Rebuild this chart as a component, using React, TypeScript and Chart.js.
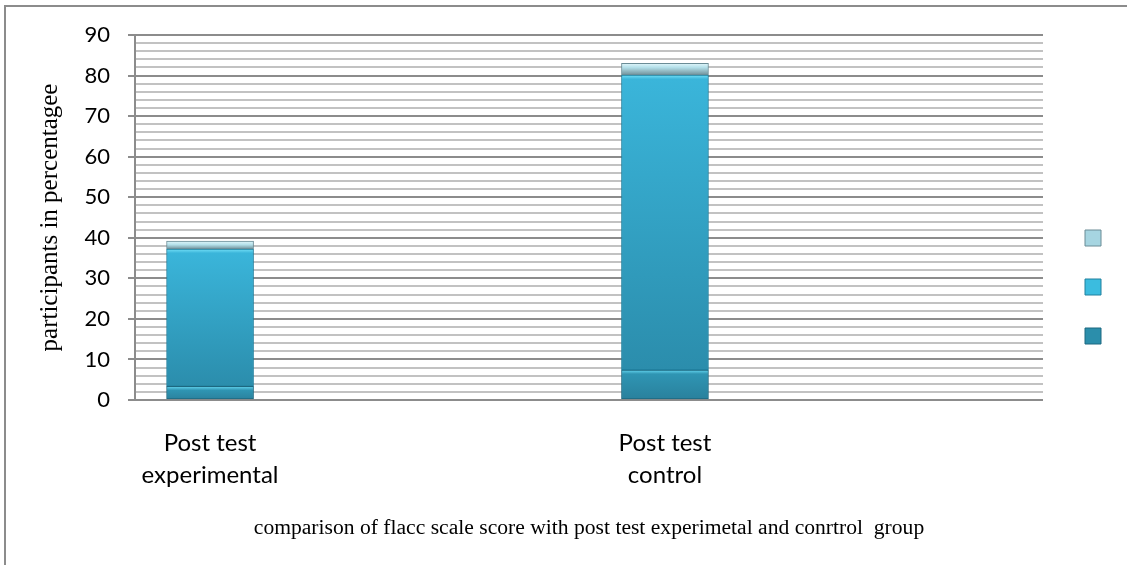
import React, { useEffect, useRef } from 'react';
import { Chart, registerables } from 'chart.js';

Chart.register(...registerables);

// ---- data ----
const categories: string[][] = [
  ['Post test', 'experimental'],
  ['Post test', 'control'],
];
const seriesBottom: number[] = [3.4, 7.4];
const seriesMiddle: number[] = [33.8, 72.7];
const seriesTop: number[] = [2.0, 2.9];
const seriesNames: string[] = ['', '', ''];
const yMin = 0;
const yMax = 90;
const yStep = 2;
const yLabelEvery = 10;
const xTitle = 'comparison of flacc scale score with post test experimetal and conrtrol  group';
const yTitle = 'participants in percentagee';

const seriesList = [seriesBottom, seriesMiddle, seriesTop];

// ---- styles ----
const colors = ['#2b8eab', '#3bbcdf', '#a6d5e1'];
const borders = ['#1d6880', '#20809e', '#6a8c96'];
const shades = [
  { hi: '#66d6f0', mid: '#2f95b3', lo: '#29809c' },
  { hi: '#72def6', mid: '#3ab5da', lo: '#2b8dac' },
  { hi: '#e0f6fa', mid: '#b4e0ea', lo: '#6f8e97' },
];
const majorGrid = '#8c8c8c';
const minorGrid = '#c2c2c2';

const toPoints = (vals: number[]) => vals.map((v, i) => ({ x: i, y: v }));

function segmentFill(i: number) {
  return (c: any) => {
    if (!c || c.type !== 'data' || c.dataIndex == null) return colors[i];
    const chart = c.chart;
    const y = chart.scales && chart.scales.y;
    if (!y) return colors[i];
    const j = c.dataIndex;
    let start = 0;
    for (let k = 0; k < i; k++) start += seriesList[k][j];
    const end = start + seriesList[i][j];
    const yt = y.getPixelForValue(end);
    const yb = y.getPixelForValue(start);
    const h = yb - yt;
    if (!(h > 0) || !isFinite(h)) return colors[i];
    const g = chart.ctx.createLinearGradient(0, yt, 0, yb);
    const e = Math.min(4 / h, 0.45);
    g.addColorStop(0, shades[i].hi);
    g.addColorStop(e, shades[i].mid);
    g.addColorStop(1, shades[i].lo);
    return g;
  };
}

export default function App() {
  const ref = useRef<HTMLCanvasElement | null>(null);

  useEffect(() => {
    if (!ref.current) return;
    const baseLabels = (Chart as any).defaults.plugins.legend.labels.generateLabels;
    const chart = new Chart(ref.current, {
      type: 'bar',
      data: {
        datasets: seriesList.map((s, i) => ({
          label: seriesNames[i],
          data: toPoints(s),
          backgroundColor: segmentFill(i),
          borderColor: borders[i],
          borderWidth: 1,
          borderSkipped: false,
          barThickness: 87,
        })),
      },
      options: {
        responsive: false,
        animation: false,
        layout: { padding: { left: 0, top: 35, right: 10, bottom: 26 } },
        plugins: {
          legend: {
            position: 'right',
            reverse: true,
            labels: {
              boxWidth: 16,
              boxHeight: 16,
              padding: 33,
              font: { size: 12 },
              generateLabels: (ch: any) =>
                baseLabels(ch).map((l: any) => ({
                  ...l,
                  fillStyle: colors[l.datasetIndex],
                  strokeStyle: borders[l.datasetIndex],
                  lineWidth: 1,
                })),
            },
          },
          tooltip: { enabled: false },
        },
        scales: {
          x: {
            type: 'linear',
            stacked: true,
            offset: false,
            min: -0.165,
            max: 1.831,
            grid: { display: false, drawTicks: false, offset: false },
            border: { display: false },
            afterBuildTicks: (s: any) => {
              s.ticks = categories.map((_, i) => ({ value: i }));
            },
            ticks: {
              autoSkip: false,
              maxRotation: 0,
              padding: 28,
              color: '#000',
              font: { family: 'Lato', size: 24, lineHeight: 1.3 },
              callback: (v: any) => categories[v] ?? '',
            },
            title: {
              display: true,
              text: xTitle,
              color: '#000',
              font: { family: '"Liberation Serif", "Times New Roman", serif', size: 21.6 },
              padding: { top: 0, bottom: -2 },
            },
            afterFit: (s: any) => {
              s.height = 139;
            },
          },
          y: {
            type: 'linear',
            stacked: true,
            min: yMin,
            max: yMax,
            ticks: {
              stepSize: yStep,
              autoSkip: false,
              padding: 18,
              color: '#000',
              font: { family: 'Lato', size: 22 },
              callback: (v: any) => (Number(v) % yLabelEvery === 0 ? String(v) : ''),
            },
            grid: {
              color: (c: any) => (c.tick && c.tick.value % yLabelEvery === 0 ? majorGrid : minorGrid),
              lineWidth: 2,
              tickLength: 7,
              tickWidth: 2,
              tickColor: (c: any) => (c.tick && c.tick.value % yLabelEvery === 0 ? majorGrid : 'rgba(0,0,0,0)'),
            },
            border: { display: true, color: majorGrid, width: 2 },
            title: {
              display: true,
              text: yTitle,
              color: '#000',
              font: { family: '"Liberation Serif", "Times New Roman", serif', size: 25 },
              padding: { top: 35, bottom: 0 },
            },
            afterFit: (s: any) => {
              s.width = 135;
            },
          },
          gap: {
            type: 'linear',
            position: 'right',
            display: true,
            grid: { display: false, drawTicks: false },
            border: { display: false },
            ticks: { display: false },
            afterFit: (s: any) => {
              s.width = 9;
            },
          },
        },
      },
    } as any);
    return () => chart.destroy();
  }, []);

  return (
    <div
      style={{
        position: 'fixed',
        left: 0,
        top: 0,
        width: 1127,
        height: 565,
        overflow: 'hidden',
        background: '#fff',
      }}
    >
      <div
        style={{
          position: 'absolute',
          left: 4,
          top: 5,
          width: 1300,
          height: 800,
          border: '2px solid #8c8c8c',
        }}
      />
      <canvas
        ref={ref}
        width={1127}
        height={565}
        style={{ position: 'absolute', left: 0, top: 0, width: 1127, height: 565 }}
      />
    </div>
  );
}
